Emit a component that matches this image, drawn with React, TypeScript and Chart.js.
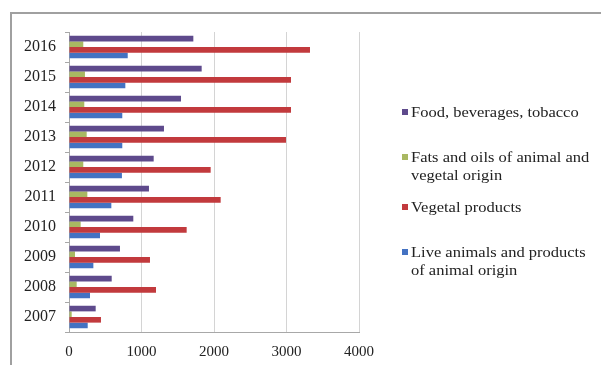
import React, { useEffect, useRef } from "react";
import { Chart, registerables } from "chart.js";

Chart.register(...registerables);

// Years, oldest first; the y axis is reversed so 2007 sits at the bottom.
const years = ["2007", "2008", "2009", "2010", "2011", "2012", "2013", "2014", "2015", "2016"];

const foodBeverages = [368, 589, 703, 887, 1103, 1168, 1310, 1545, 1830, 1715];
const fatsOils = [37, 106, 83, 161, 253, 197, 244, 211, 220, 197];
const vegetalProducts = [441, 1200, 1117, 1623, 2092, 1954, 2993, 3062, 3062, 3324];
const liveAnimals = [258, 290, 336, 428, 584, 730, 735, 735, 777, 810];

const xTicks = [0, 1000, 2000, 3000, 4000];

const seriesNames = [
  "Food, beverages, tobacco",
  "Fats and oils of animal and vegetal origin",
  "Vegetal products",
  "Live animals and products of animal origin",
];
const seriesColors = ["#5E4A8C", "#A9B862", "#C23A3D", "#4472C2"];

const legendLines = [
  ["Food, beverages, tobacco"],
  ["Fats and oils of animal and", "vegetal origin"],
  ["Vegetal products"],
  ["Live animals and products", "of animal origin"],
];
const legendTops = [103, 148, 198, 243];

const serif = "'Liberation Serif', 'Times New Roman', serif";

export default function App() {
  const canvasRef = useRef<HTMLCanvasElement | null>(null);

  useEffect(() => {
    document.body.style.margin = "0";
    const canvas = canvasRef.current;
    if (!canvas) return;
    const values = [foodBeverages, fatsOils, vegetalProducts, liveAnimals];
    const chart = new Chart(canvas, {
      type: "bar",
      data: {
        labels: years,
        datasets: values.map((v, i) => ({
          label: seriesNames[i],
          data: v,
          backgroundColor: seriesColors[i],
          borderWidth: 0,
          categoryPercentage: 0.75,
          barPercentage: 1,
        })),
      },
      options: {
        indexAxis: "y",
        animation: false,
        responsive: false,
        maintainAspectRatio: false,
        layout: { padding: { left: 0, right: 242, top: 32, bottom: 0 } },
        plugins: {
          legend: { display: false },
          tooltip: { enabled: false },
        },
        scales: {
          x: {
            min: 0,
            max: 4000,
            afterBuildTicks: (scale: any) => {
              scale.ticks = xTicks.map((value) => ({ value }));
            },
            afterFit: (scale: any) => {
              scale.height = 33;
            },
            grid: {
              color: "#d4d4d4",
              lineWidth: 1,
              drawTicks: false,
            },
            border: { display: true, color: "#a8a8a8", width: 1 },
            ticks: {
              padding: 11,
              color: "#222",
              font: { family: serif, size: 15 },
              callback: (value: any) => String(value),
            },
          },
          y: {
            reverse: true,
            afterFit: (scale: any) => {
              scale.width = 69;
            },
            grid: {
              offset: true,
              drawOnChartArea: false,
              drawTicks: true,
              tickLength: 4,
              color: "#a8a8a8",
            },
            border: { display: true, color: "#a8a8a8", width: 1 },
            ticks: {
              padding: 9,
              color: "#222",
              font: { family: serif, size: 16 },
            },
          },
        },
      },
    });
    return () => chart.destroy();
  }, []);

  return (
    <div
      style={{
        position: "fixed",
        left: 0,
        top: 0,
        width: 601,
        height: 365,
        overflow: "hidden",
        background: "#fff",
      }}
    >
      <div
        style={{
          position: "absolute",
          left: 10,
          top: 12,
          width: 620,
          height: 380,
          borderLeft: "2px solid #a0a0a0",
          borderTop: "2px solid #a0a0a0",
        }}
      />
      <canvas
        ref={canvasRef}
        width={601}
        height={365}
        style={{ position: "absolute", left: 0, top: 0, width: 601, height: 365 }}
      />
      {legendLines.map((lines, i) => (
        <div
          key={i}
          style={{
            position: "absolute",
            left: 402,
            top: legendTops[i],
            fontFamily: serif,
            fontSize: 15,
            lineHeight: "18px",
            color: "#222",
            whiteSpace: "nowrap",
          }}
        >
          <span
            style={{
              position: "absolute",
              left: 0,
              top: 6,
              width: 6,
              height: 6,
              background: seriesColors[i],
            }}
          />
          <div style={{ marginLeft: 9, transform: "scaleX(1.1)", transformOrigin: "left" }}>
            {lines.map((t, j) => (
              <div key={j}>{t}</div>
            ))}
          </div>
        </div>
      ))}
    </div>
  );
}
